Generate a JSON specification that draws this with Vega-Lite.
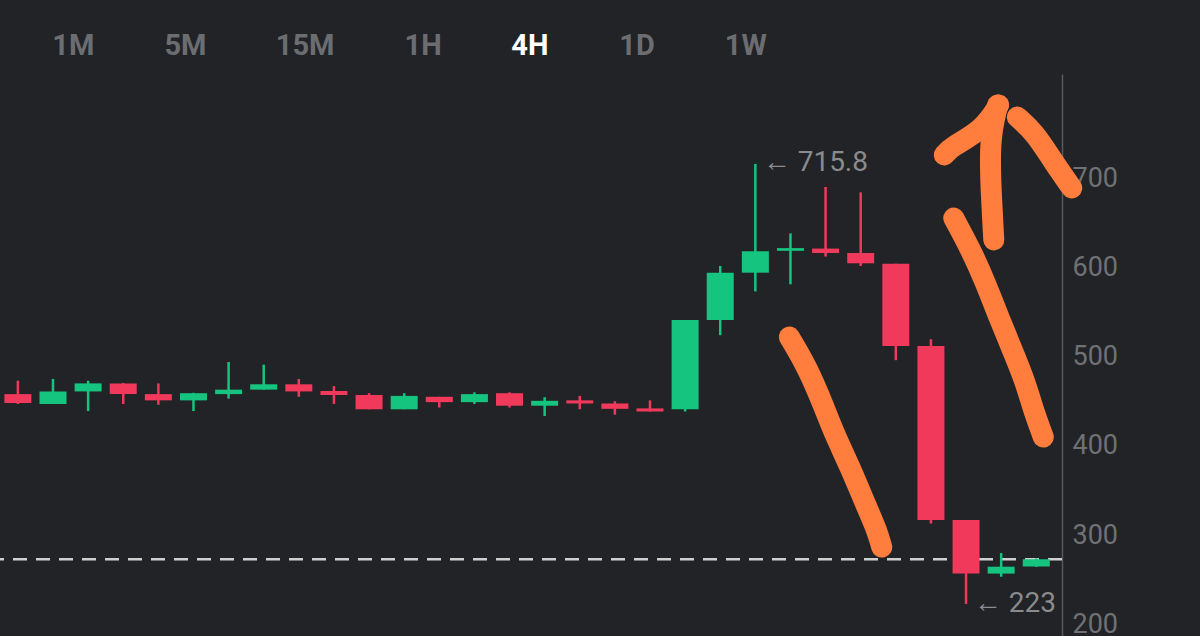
{
  "$schema": "https://vega.github.io/schema/vega-lite/v6.json",
  "width": 1062,
  "height": 562,
  "autosize": {"type": "none"},
  "padding": {"left": 0, "top": 74, "right": 138, "bottom": 0},
  "background": "#222326",
  "config": {"view": {"stroke": null}},
  "datasets": {
    "candles": [
      {"i": 0, "o": 458, "h": 473, "l": 447, "c": 448},
      {"i": 1, "o": 447, "h": 475, "l": 447, "c": 461},
      {"i": 2, "o": 461, "h": 473, "l": 439, "c": 470},
      {"i": 3, "o": 470, "h": 470.5, "l": 447, "c": 458},
      {"i": 4, "o": 458, "h": 470, "l": 446, "c": 451},
      {"i": 5, "o": 451, "h": 459.5, "l": 439, "c": 459},
      {"i": 6, "o": 458, "h": 494, "l": 453, "c": 463},
      {"i": 7, "o": 463, "h": 491, "l": 463, "c": 469},
      {"i": 8, "o": 469, "h": 475, "l": 455, "c": 461},
      {"i": 9, "o": 461.5, "h": 467, "l": 447, "c": 457},
      {"i": 10, "o": 457, "h": 459, "l": 441, "c": 441},
      {"i": 11, "o": 441, "h": 459, "l": 441, "c": 456},
      {"i": 12, "o": 455, "h": 455, "l": 443, "c": 449},
      {"i": 13, "o": 449, "h": 460, "l": 447, "c": 458},
      {"i": 14, "o": 459, "h": 460, "l": 443, "c": 445},
      {"i": 15, "o": 445, "h": 454.5, "l": 433.5, "c": 450.5},
      {"i": 16, "o": 451, "h": 456, "l": 441, "c": 447.5},
      {"i": 17, "o": 447.5, "h": 450, "l": 435, "c": 441.5},
      {"i": 18, "o": 442, "h": 451, "l": 438.5, "c": 438.5},
      {"i": 19, "o": 441, "h": 541, "l": 438.5, "c": 541},
      {"i": 20, "o": 541, "h": 601.5, "l": 524, "c": 594},
      {"i": 21, "o": 594, "h": 715.8, "l": 573, "c": 618},
      {"i": 22, "o": 618.5, "h": 638, "l": 581, "c": 621.5},
      {"i": 23, "o": 621, "h": 690, "l": 612, "c": 616},
      {"i": 24, "o": 616, "h": 684, "l": 601.5, "c": 604.5},
      {"i": 25, "o": 604, "h": 604, "l": 496, "c": 512},
      {"i": 26, "o": 512, "h": 519.5, "l": 313, "c": 317},
      {"i": 27, "o": 317, "h": 317, "l": 223, "c": 257},
      {"i": 28, "o": 257, "h": 280, "l": 253.5, "c": 264.7},
      {"i": 29, "o": 265, "h": 274, "l": 264.5, "c": 273}
    ],
    "strokes": [
      {"s": "a", "k": 0, "x": 21.97, "y": 521.9},
      {"s": "a", "k": 1, "x": 22.48, "y": 488.3},
      {"s": "a", "k": 2, "x": 22.96, "y": 443.5},
      {"s": "a", "k": 3, "x": 23.24, "y": 414.4},
      {"s": "a", "k": 4, "x": 23.70, "y": 376.3},
      {"s": "a", "k": 5, "x": 24.17, "y": 331.5},
      {"s": "a", "k": 6, "x": 24.46, "y": 305.8},
      {"s": "a", "k": 7, "x": 24.60, "y": 286.7},
      {"s": "b", "k": 0, "x": 26.65, "y": 655.2},
      {"s": "b", "k": 1, "x": 27.14, "y": 619.4},
      {"s": "b", "k": 2, "x": 27.56, "y": 582.4},
      {"s": "b", "k": 3, "x": 27.93, "y": 544.3},
      {"s": "b", "k": 4, "x": 28.32, "y": 507.4},
      {"s": "b", "k": 5, "x": 28.69, "y": 471.5},
      {"s": "b", "k": 6, "x": 28.89, "y": 443.5},
      {"s": "b", "k": 7, "x": 29.20, "y": 409.9},
      {"s": "c", "k": 0, "x": 27.79, "y": 630.6},
      {"s": "c", "k": 1, "x": 27.72, "y": 678.7},
      {"s": "c", "k": 2, "x": 27.66, "y": 742.6},
      {"s": "c", "k": 3, "x": 27.90, "y": 781.8},
      {"s": "d", "k": 0, "x": 26.38, "y": 725.8},
      {"s": "d", "k": 1, "x": 26.57, "y": 734.7},
      {"s": "d", "k": 2, "x": 27.48, "y": 753.8},
      {"s": "d", "k": 3, "x": 27.93, "y": 781.8},
      {"s": "e", "k": 0, "x": 28.46, "y": 768.3},
      {"s": "e", "k": 1, "x": 28.97, "y": 750.4},
      {"s": "e", "k": 2, "x": 29.45, "y": 720.2},
      {"s": "e", "k": 3, "x": 30.01, "y": 688.8}
    ],
    "tabs": [
      {"t": "1M", "x": 1.58},
      {"t": "5M", "x": 4.77},
      {"t": "15M", "x": 8.18},
      {"t": "1H", "x": 11.54},
      {"t": "4H", "x": 14.58},
      {"t": "1D", "x": 17.63},
      {"t": "1W", "x": 20.73}
    ],
    "notes": [
      {"t": "← 715.8", "x": 21.21, "y": 716.8},
      {"t": "← 223", "x": 27.22, "y": 222.9}
    ]
  },
  "layer": [
    {
      "data": {"values": [{"price": 273}]},
      "mark": {"type": "rule", "color": "#cfcfcf", "strokeWidth": 2.5, "strokeDash": [14, 9]},
      "encoding": {
        "y": {"field": "price", "type": "quantitative", "scale": {"domain": [187.1, 816.5], "nice": false, "zero": false},
          "title": null,
          "axis": {"orient": "right", "values": [200, 300, 400, 500, 600, 700], "ticks": false, "grid": false,
            "labelFont": "Roboto", "labelFontSize": 27, "labelColor": "#707175", "labelPadding": 10,
            "domainColor": "#56575b", "domainWidth": 1.5, "labelBaseline": "middle"}}
      }
    },
    {
      "data": {"name": "candles"},
      "mark": {"type": "rule", "strokeWidth": 2.5},
      "encoding": {
        "x": {"field": "i", "type": "quantitative", "scale": {"domain": [-0.367, 29.59], "nice": false, "zero": false}, "axis": null},
        "y": {"field": "l", "type": "quantitative", "title": null},
        "y2": {"field": "h"},
        "color": {"condition": {"test": "datum.c >= datum.o", "value": "#15c57f"}, "value": "#f0395b"}
      }
    },
    {
      "data": {"name": "candles"},
      "mark": {"type": "bar", "size": 27, "orient": "vertical"},
      "encoding": {
        "x": {"field": "i", "type": "quantitative", "axis": null},
        "y": {"field": "o", "type": "quantitative", "title": null},
        "y2": {"field": "c"},
        "color": {"condition": {"test": "datum.c >= datum.o", "value": "#15c57f"}, "value": "#f0395b"}
      }
    },
    {
      "data": {"name": "notes"},
      "mark": {"type": "text", "align": "left", "baseline": "middle", "font": "Roboto", "fontSize": 28, "color": "#8a8b8e"},
      "encoding": {
        "x": {"field": "x", "type": "quantitative", "axis": null},
        "y": {"field": "y", "type": "quantitative", "title": null},
        "text": {"field": "t"}
      }
    },
    {
      "data": {"name": "tabs"},
      "mark": {"type": "text", "align": "center", "baseline": "middle", "font": "Roboto", "fontWeight": "bold", "fontSize": 29},
      "encoding": {
        "x": {"field": "x", "type": "quantitative", "axis": null},
        "y": {"datum": 847.8, "type": "quantitative"},
        "text": {"field": "t"},
        "color": {"condition": {"test": "datum.t === '4H'", "value": "#ffffff"}, "value": "#6c6d71"}
      }
    },
    {
      "data": {"name": "strokes"},
      "mark": {"type": "line", "color": "#ff7d3d", "strokeWidth": 21, "strokeCap": "round", "strokeJoin": "round", "interpolate": "basis"},
      "encoding": {
        "x": {"field": "x", "type": "quantitative", "axis": null},
        "y": {"field": "y", "type": "quantitative", "title": null},
        "detail": {"field": "s"},
        "order": {"field": "k", "type": "quantitative"}
      }
    }
  ]
}
